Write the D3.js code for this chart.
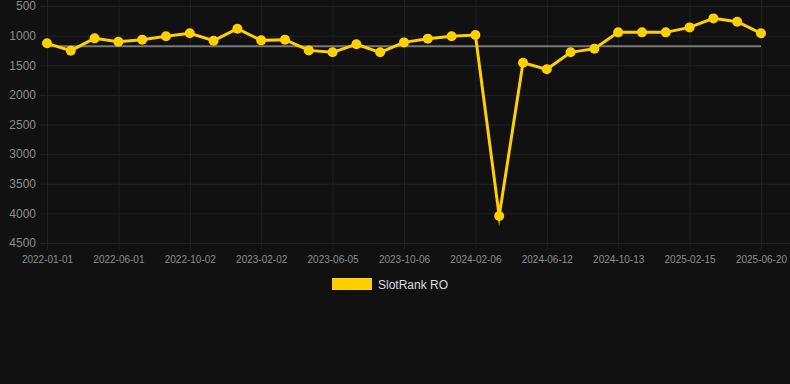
<!DOCTYPE html>
<html>
<head>
<meta charset="utf-8">
<script src="https://cdn.jsdelivr.net/npm/d3@7"></script>
<style>
  html, body { margin: 0; padding: 0; background: #111111; }
  svg { display: block; font-family: "Liberation Sans", Arial, sans-serif; }
</style>
</head>
<body>
<svg width="790" height="384"></svg>
<script>
(function (d3) {
    'use strict';

    // dates of the samples (every 3rd one is labelled on the axis)
    const dates = [
        '2022-01-01', '2022-02-20', '2022-04-11', '2022-06-01', '2022-07-12',
        '2022-08-22', '2022-10-02', '2022-11-12', '2022-12-23', '2023-02-02',
        '2023-03-15', '2023-04-25', '2023-06-05', '2023-07-16', '2023-08-26',
        '2023-10-06', '2023-11-16', '2023-12-27', '2024-02-06', '2024-03-18',
        '2024-05-01', '2024-06-12', '2024-07-23', '2024-09-02', '2024-10-13',
        '2024-11-23', '2025-01-04', '2025-02-15', '2025-03-28', '2025-05-09',
        '2025-06-20'
    ];
    // SlotRank RO values
    const ranks = [
        1130, 1254, 1046, 1102, 1068, 1012, 961, 1085, 883, 1080,
        1068, 1249, 1282, 1147, 1282, 1114, 1051, 1012, 989, 4044,
        1457, 1569, 1282, 1220, 945, 945, 945, 861, 709, 765,
        961
    ];
    const yTicks = [500, 1000, 1500, 2000, 2500, 3000, 3500, 4000, 4500];
    const seriesName = 'SlotRank RO';

    const svg = d3.select('svg');
    const lineColor = '#ffd000';
    const gridColor = '#222222';

    const data = dates.map((d, i) => ({ date: d, rank: ranks[i] }));

    const xScale = d3.scalePoint()
        .domain(dates)
        .range([47, 761]);

    const yScale = d3.scaleLinear()
        .domain([500, 4500])
        .range([6, 243]);

    // horizontal grid + y labels
    const yAxis = d3.axisLeft(yScale)
        .tickValues(yTicks)
        .tickSize(-750)
        .tickPadding(4)
        .tickFormat(d3.format('d'));
    const yG = svg.append('g')
        .attr('transform', 'translate(40,0)')
        .call(yAxis);
    yG.select('.domain').remove();
    yG.selectAll('line').attr('stroke', gridColor);
    yG.selectAll('text')
        .attr('fill', '#8c8c8c')
        .attr('font-size', 12)
        .attr('x', -4)
        .style('font-family', '"Liberation Sans", Arial, sans-serif');

    // vertical grid + x labels
    const xAxis = d3.axisBottom(xScale)
        .tickValues(dates.filter((d, i) => i % 3 === 0))
        .tickSize(-250)
        .tickPadding(0);
    const xG = svg.append('g')
        .attr('transform', 'translate(0,250)')
        .call(xAxis);
    xG.select('.domain').remove();
    xG.selectAll('line').attr('stroke', gridColor);
    xG.selectAll('text')
        .attr('fill', '#8c8c8c')
        .attr('font-size', 10)
        .attr('y', 13)
        .attr('dy', 0)
        .style('font-family', '"Liberation Sans", Arial, sans-serif');

    // average line
    const avg = d3.mean(ranks);
    svg.append('line')
        .attr('x1', xScale(dates[0]))
        .attr('x2', xScale(dates[dates.length - 1]))
        .attr('y1', yScale(avg))
        .attr('y2', yScale(avg))
        .attr('stroke', '#777777')
        .attr('stroke-width', 2);

    const line = d3.line()
        .x(d => xScale(d.date))
        .y(d => yScale(d.rank));

    svg.append('path')
        .datum(data)
        .attr('d', line)
        .attr('fill', 'none')
        .attr('stroke', lineColor)
        .attr('stroke-width', 3)
        .attr('stroke-linejoin', 'miter')
        .attr('stroke-miterlimit', 10);

    svg.selectAll('circle.pt').data(data)
        .enter().append('circle')
        .attr('class', 'pt')
        .attr('cx', d => xScale(d.date))
        .attr('cy', d => yScale(d.rank))
        .attr('r', 5)
        .attr('fill', lineColor);

    // legend
    const legend = svg.append('g').attr('transform', 'translate(332,278)');
    legend.append('rect')
        .attr('width', 40)
        .attr('height', 12)
        .attr('fill', lineColor);
    legend.append('text')
        .attr('x', 46)
        .attr('y', 11)
        .attr('fill', '#dddddd')
        .attr('font-size', 12)
        .text(seriesName);
}(d3));
</script>
</body>
</html>
